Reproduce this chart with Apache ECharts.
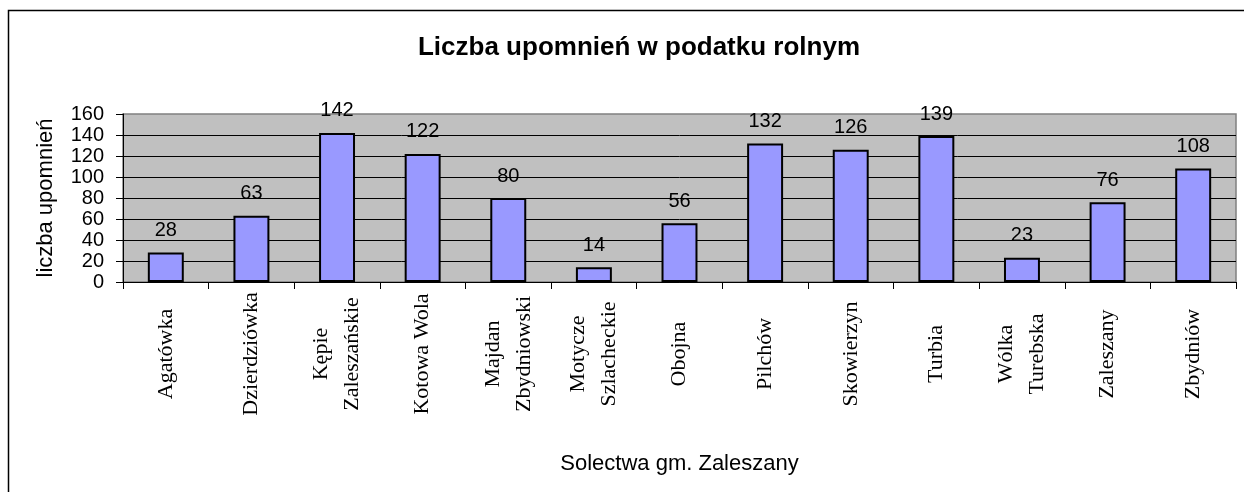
<!DOCTYPE html>
<html>
<head>
<meta charset="utf-8">
<script src="https://cdn.jsdelivr.net/npm/echarts@6/dist/echarts.min.js"></script>
<style>
html,body{margin:0;padding:0;background:#fff;}
#chart{width:1244px;height:492px;}
</style>
</head>
<body>
<div id="chart"></div>
<script>
const titleText = 'Liczba upomnień w podatku rolnym';
const yAxisName = 'liczba upomnień';
const xAxisName = 'Solectwa gm. Zaleszany';
const categories = ['Agatówka', 'Dzierdziówka', 'Kępie\nZaleszańskie', 'Kotowa Wola', 'Majdan\nZbydniowski', 'Motycze\nSzlacheckie', 'Obojna', 'Pilchów', 'Skowierzyn', 'Turbia', 'Wólka\nTurebska', 'Zaleszany', 'Zbydniów'];
const values = [28, 63, 142, 122, 80, 14, 56, 132, 126, 139, 23, 76, 108];
const yTicks = [0, 20, 40, 60, 80, 100, 120, 140, 160];

const chart = echarts.init(document.getElementById('chart'), null, {renderer: 'canvas'});
const sans = 'Liberation Sans, Arial, sans-serif';
const serif = 'Liberation Serif, Times New Roman, serif';

chart.setOption({
  animation: false,
  backgroundColor: '#fff',
  title: {
    text: titleText,
    left: 634,
    top: 30,
    textAlign: 'center',
    textStyle: {fontFamily: sans, fontSize: 26, fontWeight: 'bold', color: '#000'}
  },
  graphic: [{
    type: 'rect',
    shape: {x: 8.5, y: 10.5, width: 1400, height: 700},
    style: {fill: 'none', stroke: '#000', lineWidth: 1.5},
    silent: true,
    z: 100
  }],
  grid: {
    left: 123, right: 8, top: 114, bottom: 210,
    show: true,
    backgroundColor: '#c0c0c0',
    borderColor: '#808080',
    borderWidth: 1.5,
    containLabel: false
  },
  xAxis: {
    type: 'category',
    data: categories,
    boundaryGap: true,
    name: xAxisName,
    nameLocation: 'middle',
    nameGap: 171,
    nameTextStyle: {fontFamily: sans, fontSize: 22, color: '#000'},
    axisLine: {show: true, lineStyle: {color: '#000', width: 1}},
    axisTick: {show: true, alignWithLabel: false, length: 7, lineStyle: {color: '#000'}},
    axisLabel: {
      interval: 0,
      rotate: 90,
      align: 'center',
      verticalAlign: 'middle',
      margin: 72,
      fontFamily: serif,
      fontSize: 22,
      lineHeight: 31,
      color: '#000',
      hideOverlap: false
    },
    splitLine: {show: false}
  },
  yAxis: {
    type: 'value',
    min: yTicks[0],
    max: yTicks[yTicks.length - 1],
    interval: yTicks[1] - yTicks[0],
    name: yAxisName,
    nameLocation: 'middle',
    nameGap: 66,
    nameTextStyle: {fontFamily: sans, fontSize: 22, color: '#000'},
    axisLine: {show: true, lineStyle: {color: '#000', width: 1}},
    axisTick: {show: true, length: 7, lineStyle: {color: '#000'}},
    axisLabel: {margin: 19, fontFamily: sans, fontSize: 20, color: '#000'},
    splitLine: {show: true, showMaxLine: false, lineStyle: {color: '#000', width: 1}}
  },
  series: [{
    type: 'bar',
    data: values,
    barWidth: '42%',
    itemStyle: {color: '#9999ff', borderColor: '#000', borderWidth: 2},
    label: {
      show: true,
      position: 'top',
      distance: 12,
      fontFamily: sans,
      fontSize: 20,
      color: '#000'
    }
  }]
});
</script>
</body>
</html>
